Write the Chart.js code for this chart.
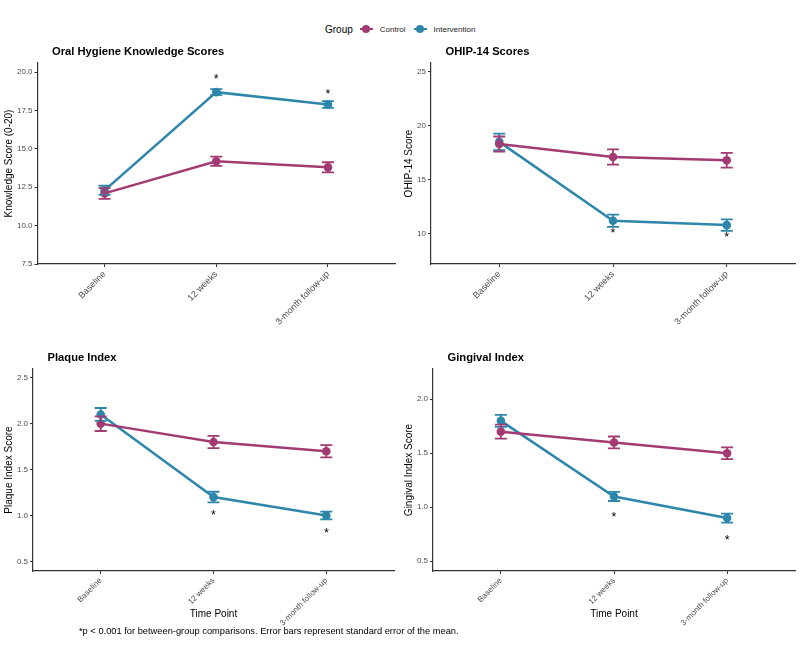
<!DOCTYPE html>
<html><head><meta charset="utf-8">
<script src="https://cdn.jsdelivr.net/npm/chart.js@4.4.1/dist/chart.umd.min.js"></script>
<style>
body{margin:0;background:#fff;width:800px;height:667px;position:relative;overflow:hidden;font-family:"Liberation Sans",Arial,sans-serif}
canvas{position:absolute}
#legend{position:absolute;top:22px;left:325px;height:14px;display:flex;align-items:center;white-space:nowrap}
#legend .ttl{font-size:10px;color:#000;margin-right:7px}
#legend .key{position:relative;width:13px;height:2.5px;margin-right:7px}
#legend .key i{position:absolute;left:2.5px;top:-2.75px;width:8px;height:8px;border-radius:50%}
#legend .lab{font-size:8px;color:#1a1a1a;margin-right:8px}
#note{position:absolute;left:79px;top:626px;font-size:9.3px;color:#000;white-space:nowrap}
</style></head><body>
<div id="legend"></div>
<canvas id="c1" width="400" height="290" style="left:0;top:40px"></canvas>
<canvas id="c2" width="400" height="290" style="left:400px;top:40px"></canvas>
<canvas id="c3" width="400" height="310" style="left:0;top:330px"></canvas>
<canvas id="c4" width="400" height="310" style="left:400px;top:330px"></canvas>
<div id="note"></div>
<script>
// ---- data ----
const timePoints = ["Baseline", "12 weeks", "3-month follow-up"];
const groupNames = ["Control", "Intervention"];
const groupTitle = "Group";
const xAxisTitle = "Time Point";

const knowledgeControl = [12.1, 14.2, 13.8];
const knowledgeControlSE = [0.35, 0.3, 0.33];
const knowledgeIntervention = [12.3, 18.7, 17.9];
const knowledgeInterventionSE = [0.3, 0.2, 0.22];
const knowledgeSig = [null, 19.73, 18.7];
const knowledgeTicks = [7.5, 10, 12.5, 15, 17.5, 20];

const ohipControl = [18.3, 17.1, 16.8];
const ohipControlSE = [0.7, 0.7, 0.68];
const ohipIntervention = [18.5, 11.2, 10.8];
const ohipInterventionSE = [0.77, 0.57, 0.53];
const ohipSig = [null, 10.3, 9.9];
const ohipTicks = [10, 15, 20, 25];

const plaqueControl = [2.0, 1.8, 1.7];
const plaqueControlSE = [0.08, 0.067, 0.067];
const plaqueIntervention = [2.1, 1.2, 1.0];
const plaqueInterventionSE = [0.07, 0.058, 0.042];
const plaqueSig = [null, 1.03, 0.83];
const plaqueTicks = [0.5, 1.0, 1.5, 2.0, 2.5];

const gingivalControl = [1.7, 1.6, 1.5];
const gingivalControlSE = [0.065, 0.055, 0.055];
const gingivalIntervention = [1.8, 1.1, 0.9];
const gingivalInterventionSE = [0.055, 0.042, 0.042];
const gingivalSig = [null, 0.93, 0.72];
const gingivalTicks = [0.5, 1.0, 1.5, 2.0];

const footnote = "*p < 0.001 for between-group comparisons. Error bars represent standard error of the mean.";

// ---- styles ----
const COLORS = ["#A23B72", "#2E86AB"];
const FONT = "'Liberation Sans', Arial, sans-serif";
document.getElementById('note').textContent = footnote;

// legend
const lg = document.getElementById('legend');
lg.innerHTML = '<span class="ttl">' + groupTitle + '</span>' + groupNames.map((g, i) =>
  '<span class="key" style="background:' + COLORS[i] + '"><i style="background:' + COLORS[i] + '"></i></span><span class="lab">' + g + '</span>').join('');

const errorBarPlugin = {
  id: 'errbars',
  afterDatasetsDraw(chart) {
    const ctx = chart.ctx, xs = chart.scales.x, ys = chart.scales.y;
    for (let d = chart.data.datasets.length - 1; d >= 0; d--) {
      const ds = chart.data.datasets[d];
      ctx.save();
      ctx.strokeStyle = ds.borderColor; ctx.lineWidth = 1.8;
      ds.data.forEach((p, j) => {
        const x = xs.getPixelForValue(p.x);
        const t = ys.getPixelForValue(p.y + ds.se[j]);
        const b = ys.getPixelForValue(p.y - ds.se[j]);
        ctx.beginPath();
        ctx.moveTo(x, t); ctx.lineTo(x, b);
        ctx.moveTo(x - 6, t); ctx.lineTo(x + 6, t);
        ctx.moveTo(x - 6, b); ctx.lineTo(x + 6, b);
        ctx.stroke();
      });
      ctx.restore();
    }
  },
  afterDraw(chart) {
    const ctx = chart.ctx, xs = chart.scales.x, ys = chart.scales.y;
    const o = chart.options.plugins.extra;
    ctx.save();
    ctx.fillStyle = '#000';
    ctx.font = '12.5px ' + FONT;
    ctx.textAlign = 'center'; ctx.textBaseline = 'alphabetic';
    o.sig.forEach((v, i) => {
      if (v == null) return;
      ctx.fillText('*', xs.getPixelForValue(i), ys.getPixelForValue(v) + 0.5 * 12.5);
    });
    ctx.font = 'bold 11.2px ' + FONT;
    ctx.textAlign = 'left'; ctx.textBaseline = 'middle';
    ctx.fillText(o.title, chart.chartArea.left + 14.5, chart.chartArea.top - 11.5);
    ctx.restore();
  }
};

function makePanel(id, cfg) {
  const mk = (vals, se, i) => ({
    label: groupNames[i],
    data: vals.map((v, j) => ({x: j, y: v})),
    se: se,
    borderColor: COLORS[i], backgroundColor: COLORS[i],
    pointBackgroundColor: COLORS[i], pointBorderWidth: 0,
    pointRadius: 4.3, borderWidth: 2.5, tension: 0
  });
  new Chart(document.getElementById(id), {
    type: 'line',
    data: {datasets: [mk(cfg.ctrl, cfg.ctrlSE, 0), mk(cfg.int, cfg.intSE, 1)]},
    options: {
      responsive: false, animation: false, devicePixelRatio: 1,
      layout: {padding: {top: cfg.padTop, right: cfg.padRight, bottom: 0, left: 0}},
      plugins: {legend: {display: false}, tooltip: {enabled: false},
        extra: {sig: cfg.sig, title: cfg.title}},
      scales: {
        x: {
          type: 'linear', min: -0.6, max: 2.6,
          afterBuildTicks: s => { s.ticks = timePoints.map((_, i) => ({value: i})); },
          afterFit: s => { s.height = cfg.xH; },
          ticks: {callback: v => timePoints[v], minRotation: 45, maxRotation: 45, autoSkip: false,
            color: '#4D4D4D', font: {family: FONT, size: cfg.xFont}, padding: 2},
          grid: {drawOnChartArea: false, drawTicks: true, tickLength: 3, color: '#333', lineWidth: 1},
          border: {color: '#333', width: 1.2},
          title: {display: cfg.showX, text: xAxisTitle, color: '#000', font: {family: FONT, size: 10},
            padding: {top: 4, bottom: 20}}
        },
        y: {
          type: 'linear', min: cfg.min, max: cfg.max,
          afterBuildTicks: s => { s.ticks = cfg.ticks.map(v => ({value: v})); },
          afterFit: s => { s.width = cfg.yW; },
          ticks: {callback: v => v.toFixed(cfg.dec), color: '#4D4D4D', font: {family: FONT, size: 8}, padding: 2},
          grid: {drawOnChartArea: false, drawTicks: true, tickLength: 3, color: '#333', lineWidth: 1},
          border: {color: '#333', width: 1.2},
          title: {display: true, text: cfg.yTitle, color: '#000', font: {family: FONT, size: 10},
            padding: {top: 3.5, bottom: 0}}
        }
      }
    },
    plugins: [errorBarPlugin]
  });
}

makePanel('c1', {title: 'Oral Hygiene Knowledge Scores', yTitle: 'Knowledge Score (0-20)',
  ctrl: knowledgeControl, ctrlSE: knowledgeControlSE, int: knowledgeIntervention, intSE: knowledgeInterventionSE,
  sig: knowledgeSig, ticks: knowledgeTicks, min: 7.5, max: 20.6, dec: 1,
  padTop: 23, padRight: 5, yW: 37.5, xH: 66, showX: false, xFont: 9});
makePanel('c2', {title: 'OHIP-14 Scores', yTitle: 'OHIP-14 Score',
  ctrl: ohipControl, ctrlSE: ohipControlSE, int: ohipIntervention, intSE: ohipInterventionSE,
  sig: ohipSig, ticks: ohipTicks, min: 7.2, max: 25.8, dec: 0,
  padTop: 23, padRight: 5, yW: 31, xH: 66, showX: false, xFont: 9});
makePanel('c3', {title: 'Plaque Index', yTitle: 'Plaque Index Score',
  ctrl: plaqueControl, ctrlSE: plaqueControlSE, int: plaqueIntervention, intSE: plaqueInterventionSE,
  sig: plaqueSig, ticks: plaqueTicks, min: 0.395, max: 2.595, dec: 1,
  padTop: 39, padRight: 6, yW: 33, xH: 69, showX: true, xFont: 8});
makePanel('c4', {title: 'Gingival Index', yTitle: 'Gingival Index Score',
  ctrl: gingivalControl, ctrlSE: gingivalControlSE, int: gingivalIntervention, intSE: gingivalInterventionSE,
  sig: gingivalSig, ticks: gingivalTicks, min: 0.41, max: 2.28, dec: 1,
  padTop: 39, padRight: 5, yW: 33, xH: 69, showX: true, xFont: 8});
</script>
</body></html>
